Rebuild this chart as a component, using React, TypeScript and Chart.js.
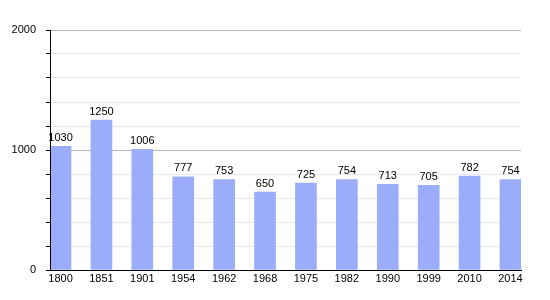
import React, { useEffect, useRef } from "react";
import { Chart, registerables } from "chart.js";

Chart.register(...registerables);

const years = ["1800", "1851", "1901", "1954", "1962", "1968", "1975", "1982", "1990", "1999", "2010", "2014"];
const population = [1030, 1250, 1006, 777, 753, 650, 725, 754, 713, 705, 782, 754];
const yMajorLabels = [0, 1000, 2000];

const FONT = "Liberation Sans, Arial, sans-serif";

const valueLabels = {
  id: "valueLabels",
  afterDatasetsDraw(chart: any) {
    const ctx = chart.ctx;
    const meta = chart.getDatasetMeta(0);
    const { left, right, bottom } = chart.chartArea;
    const yTop = chart.scales.y.getPixelForValue(2000);
    ctx.save();
    // axis lines
    ctx.strokeStyle = "#000";
    ctx.lineWidth = 1;
    ctx.beginPath();
    ctx.moveTo(Math.round(left) + 0.5, yTop);
    ctx.lineTo(Math.round(left) + 0.5, Math.round(bottom) + 0.5);
    ctx.lineTo(right, Math.round(bottom) + 0.5);
    ctx.stroke();
    ctx.font = `11px ${FONT}`;
    ctx.fillStyle = "#000";
    ctx.textAlign = "center";
    ctx.textBaseline = "bottom";
    meta.data.forEach((bar: any, i: number) => {
      ctx.fillText(String(population[i]), bar.x, bar.y - 3);
    });
    ctx.restore();
  },
};

export default function App() {
  const ref = useRef<HTMLCanvasElement>(null);
  useEffect(() => {
    if (!ref.current) return;
    const chart = new Chart(ref.current, {
      type: "bar",
      data: {
        datasets: [
          {
            data: population.map((v, i) => ({ x: i, y: v })),
            backgroundColor: "rgb(154,172,250)",
            borderWidth: 0,
            barThickness: 21,
          },
        ],
      },
      options: {
        animation: false,
        responsive: false,
        maintainAspectRatio: false,
        layout: { padding: { top: 22, right: 21, bottom: 0, left: 0 } },
        plugins: { legend: { display: false }, tooltip: { enabled: false } },
        scales: {
          x: {
            type: "linear",
            offset: false,
            min: -0.257,
            max: 11.257,
            afterBuildTicks: (scale: any) => {
              scale.ticks = years.map((_, i) => ({ value: i }));
            },
            afterFit: (scale: any) => {
              scale.height = 22;
            },
            grid: { display: false, drawTicks: false, offset: false },
            border: { display: true, color: "#000", width: 1 },
            ticks: {
              autoSkip: false,
              maxRotation: 0,
              padding: 2,
              color: "#000",
              font: { family: FONT, size: 11 },
              callback: (v: any) => years[Math.round(Number(v))] ?? "",
            },
          },
          y: {
            min: 0,
            max: 2000,
            afterFit: (scale: any) => {
              scale.width = 42;
            },
            grid: {
              color: (c: any) => (c.tick && c.tick.value % 1000 === 0 ? "#b4b4b4" : "#e8e8e8"),
              tickColor: "#000",
              tickLength: 4,
            },
            border: { display: true, color: "#000", width: 1 },
            ticks: {
              stepSize: 200,
              padding: 10,
              color: "#000",
              font: { family: FONT, size: 11 },
              callback: (v: any) => (yMajorLabels.includes(Number(v)) ? String(v) : ""),
            },
          },
        },
      },
      plugins: [valueLabels],
    });
    return () => chart.destroy();
  }, []);
  return (
    <div style={{ width: 534, height: 284 }}>
      <canvas ref={ref} width={534} height={284} style={{ display: "block" }} />
    </div>
  );
}
